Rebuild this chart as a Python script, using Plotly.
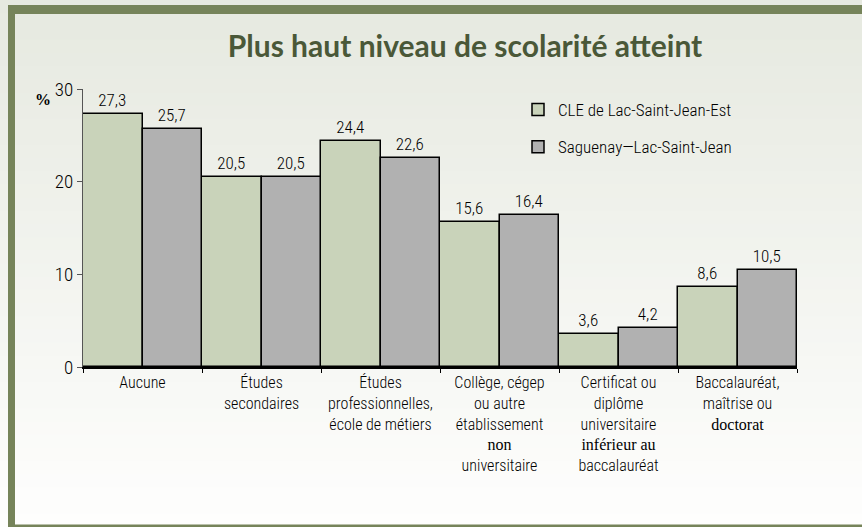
import plotly.graph_objects as go

categories = [
    "Aucune",
    "Études<br>secondaires",
    "Études<br>professionnelles,<br>école de métiers",
    "Collège, cégep<br>ou autre<br>établissement<br><span style=\"font-family:'Liberation Serif'\">non</span><br>universitaire",
    "Certificat ou<br>diplôme<br>universitaire<br><span style=\"font-family:'Liberation Serif'\">inférieur au</span><br>baccalauréat",
    "Baccalauréat,<br>maîtrise ou<br><span style=\"font-family:'Liberation Serif'\">doctorat</span>",
]
series_names = ["CLE de Lac-Saint-Jean-Est", "Saguenay\u2014Lac-Saint-Jean"]
cle_values = [27.3, 20.5, 24.4, 15.6, 3.6, 8.6]
region_values = [25.7, 20.5, 22.6, 16.4, 4.2, 10.5]
y_ticks = [0, 10, 20, 30]

W, H = 862, 527
L, R, T, B = 83, 65, 89, 160
PW, PH = W - L - R, H - T - B

def px(x):
    return (x - L) / PW

def py(y):
    return (H - B - y) / PH

FONT = "Roboto Condensed"
WT = 300

def fmt(v):
    return f"{v:.1f}".replace(".", ",")

fig = go.Figure()
fig.add_trace(go.Bar(
    x=categories, y=cle_values, name=series_names[0],
    marker=dict(color="#c9d3ba", line=dict(color="black", width=1.5)),
    text=[fmt(v) for v in cle_values], textposition="outside",
    textfont=dict(size=17, color="black", family=FONT, weight=WT),
    legendgroup="a", cliponaxis=False,
))
fig.add_trace(go.Bar(
    x=categories, y=region_values, name=series_names[1],
    marker=dict(color="#b1b1b1", line=dict(color="black", width=1.5)),
    text=[fmt(v) for v in region_values], textposition="outside",
    textfont=dict(size=17, color="black", family=FONT, weight=WT),
    legendgroup="b", cliponaxis=False,
))

shapes = []
n = 40
top_c = (0xe6, 0xe9, 0xe0)
bot_c = (0xfe, 0xfe, 0xfd)
for i in range(n):
    t = i / (n - 1)
    c = tuple(int(round(top_c[k] + (bot_c[k] - top_c[k]) * t)) for k in range(3))
    y0 = H * i / n
    y1 = H * (i + 1) / n + 1
    shapes.append(dict(type="rect", xref="paper", yref="paper", layer="below",
                       x0=px(0), x1=px(W), y0=py(y1), y1=py(y0),
                       fillcolor="rgb(%d,%d,%d)" % c, line=dict(width=0)))
border = "#76845a"
shapes.append(dict(type="rect", xref="paper", yref="paper", layer="below",
                   x0=px(8), x1=px(W + 5), y0=py(14), y1=py(5),
                   fillcolor=border, line=dict(width=0)))
shapes.append(dict(type="rect", xref="paper", yref="paper", layer="below",
                   x0=px(8), x1=px(15), y0=py(527), y1=py(5),
                   fillcolor=border, line=dict(width=0)))
shapes.append(dict(type="rect", xref="paper", yref="paper", layer="below",
                   x0=px(8), x1=px(W + 5), y0=py(527), y1=py(524.5),
                   fillcolor=border, line=dict(width=0)))

fig.update_layout(
    width=W, height=H,
    margin=dict(l=L, r=R, t=T, b=B, pad=0),
    paper_bgcolor="rgba(0,0,0,0)",
    plot_bgcolor="rgba(0,0,0,0)",
    barmode="group", bargap=0, bargroupgap=0,
    shapes=shapes,
    title=dict(text="Plus haut niveau de scolarité atteint",
               x=465 / W, xanchor="center", y=1 - 46 / H, yanchor="middle",
               xref="container", yref="container",
               font=dict(family="Lato, Open Sans", size=30, color="#4a5838", weight=700)),
    font=dict(family=FONT, size=16, color="black", weight=WT),
    legend=dict(x=px(518), y=py(92), xanchor="left", yanchor="top",
                bgcolor="rgba(0,0,0,0)", font=dict(size=17, family=FONT, weight=WT),
                tracegroupgap=12),
    annotations=[dict(text="<b>%</b>", xref="paper", yref="paper",
                      x=px(43), y=py(99), xanchor="center", yanchor="middle",
                      showarrow=False, font=dict(family="Liberation Serif", size=16, color="black"))],
)
fig.update_xaxes(showline=True, linecolor="black", linewidth=1.5,
                 ticks="outside", ticklen=4, tickcolor="black", tickson="boundaries",
                 tickangle=0, tickfont=dict(size=16, family=FONT, weight=WT), showgrid=False)
fig.update_yaxes(range=[0, 30], tickvals=y_ticks, showline=True, linecolor="#555555",
                 linewidth=1, ticks="outside", ticklen=5, tickcolor="#555555",
                 tickfont=dict(size=19, family=FONT, weight=WT), showgrid=False, zeroline=False)

fig.write_html("out.html", config={"displayModeBar": False},
               post_script="document.body.style.margin='0';document.body.style.overflow='hidden';")
